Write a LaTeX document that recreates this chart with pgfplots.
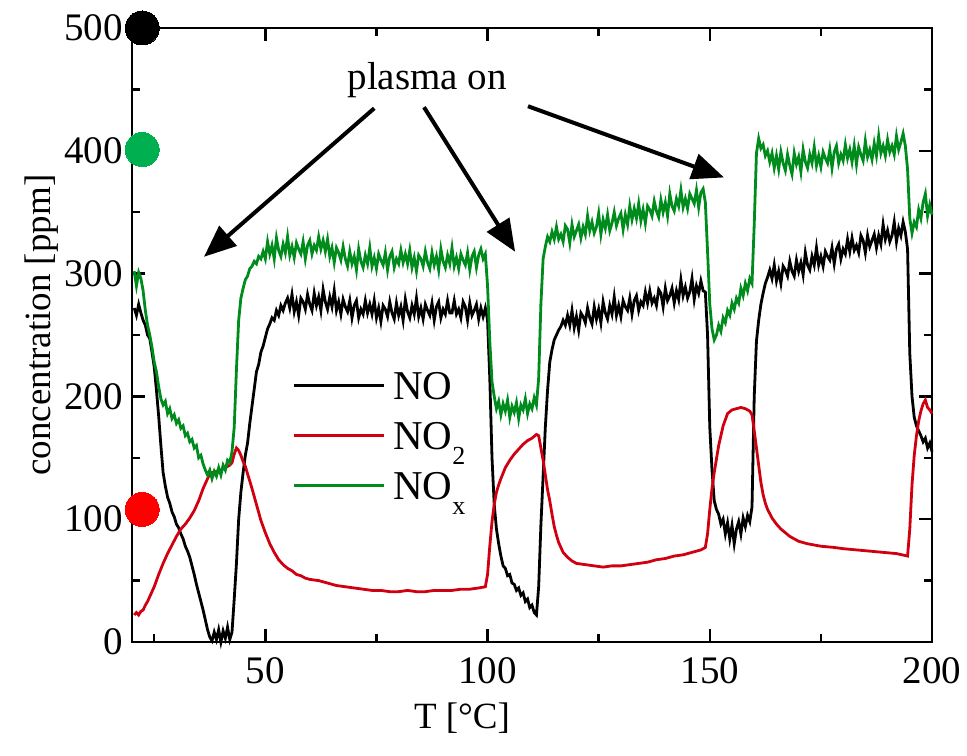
\documentclass[border=0pt]{standalone}
\usepackage{fontspec}
\setmainfont{Liberation Serif}
\usepackage{pgfplots}
\pgfplotsset{compat=1.18}
\usetikzlibrary{arrows.meta}
\definecolor{noxline}{RGB}{0,140,28}
\definecolor{noxdot}{RGB}{0,176,80}
\definecolor{notwoline}{RGB}{208,0,16}
\newcommand{\lsub}[1]{\raisebox{-0.36em}{\fontsize{13}{14}\selectfont #1}}
\begin{document}
\begin{tikzpicture}
\path[use as bounding box] (-66pt,-56.5pt) rectangle (417.5pt,321pt);
\begin{axis}[
  at={(0,0)}, anchor=south west,
  scale only axis, width=400pt, height=307pt,
  xmin=20, xmax=200, ymin=0, ymax=500,
  xtick={50,100,150,200}, minor xtick={25,75,125,175},
  ytick={0,100,200,300,400,500}, minor ytick={50,150,250,350,450},
  tick align=inside, tick pos=both,
  major tick length=6.5pt, minor tick length=4pt,
  axis line style={line width=1.4pt},
  every tick/.style={line width=1.2pt, black},
  /pgf/number format/assume math mode=true,
  tick label style={font=\fontsize{19.5}{21}\selectfont},
  xticklabel style={yshift=-4pt},
  yticklabel style={xshift=-1pt},
  xlabel={T [°C]}, ylabel={concentration [ppm]},
  label style={font=\fontsize{18.5}{20}\selectfont},
  xlabel style={at={(axis description cs:0.4125,-0.124)}, anchor=center},
  ylabel style={at={(axis description cs:-0.1125,0.516)}, anchor=center},
  clip=false,
  legend cell align=left,
  legend image code/.code={\draw[#1] (0pt,0pt) -- (45pt,0pt);},
  legend style={draw=none, fill=none, inner sep=0pt,
    at={(axis description cs:0.2,0.444)}, anchor=north west,
    font=\fontsize{20.5}{24}\selectfont, row sep=9pt, column sep=3pt,
    nodes={inner sep=1pt, text height=14pt, text depth=0pt}},
]
% NO
\addplot[black, line width=1.4pt] coordinates {
(20.5,272)(21,266)(21.5,275)(22,268)(22.5,262)(23,258)(23.5,250)(24,247)(24.5,236)(25,224)
(25.5,205)(26,184)(26.5,160)(27,138)(27.5,127)(28,118)(28.5,113)(29,106)(29.5,102)(30,96)
(30.5,93)(31,88)(31.5,84)(32,78)(32.5,74)(33,69)(33.5,62)(34,55)(34.5,47)(35,40)
(35.5,33)(36,26)(36.5,18)(37,10)(37.5,4)(38,1)(38.5,8)(39,2)(39.5,10)(40,0)
(40.5,9)(41,3)(41.5,12)(42,2)(42.5,8)(43,35)(43.5,64)(44,100)(44.5,122)(45,138)
(45.5,152)(46,162)(46.5,178)(47,192)(47.5,206)(48,220)(48.5,226)(49,236)(49.5,241)(50,248)
(50.5,255)(51,259)(51.5,264)(52,262)(52.5,270)(53,266)(53.5,274)(54,270)(54.5,276)
(55,280)(55.5,272)(56,283)(56.5,269)(57,277)(57.5,266)(58,280)(58.5,277)(59,271)(59.5,283)
(60,275)(60.5,270)(61,284)(61.5,274)(62,281)(62.5,270)(63,287)(63.5,277)(64,271)(64.5,281)
(65,273)(65.5,286)(66,270)(66.5,277)(67,267)(67.5,279)(68,273)(68.5,269)(69,278)(69.5,264)
(70,274)(70.5,278)(71,264)(71.5,271)(72,267)(72.5,278)(73,268)(73.5,275)(74,267)(74.5,278)
(75,264)(75.5,272)(76,261)(76.5,274)(77,271)(77.5,265)(78,277)(78.5,268)(79,263)(79.5,276)
(80,266)(80.5,273)(81,262)(81.5,279)(82,269)(82.5,264)(83,274)(83.5,267)(84,280)(84.5,265)
(85,272)(85.5,263)(86,275)(86.5,270)(87,266)(87.5,276)(88,262)(88.5,273)(89,277)(89.5,264)
(90,271)(90.5,267)(91,278)(91.5,268)(92,268)(92.5,278)(93,267)(93.5,271)(94,264)(94.5,277)
(95,273)(95.5,262)(96,276)(96.5,266)(97,270)(97.5,275)(98,263)(98.5,272)(99,265)(99.5,272)
(100,262)(100.5,215)(101,150)(101.5,112)(102,92)(102.5,80)(103,70)(103.5,62)(104,60)(104.5,54)
(105,55)(105.5,48)(106,47)(106.5,42)(107,44)(107.5,38)(108,40)(108.5,33)(109,35)(109.5,28)
(110,30)(110.5,24)(111,22)(111.5,45)(112,95)(112.5,135)(113,175)(113.5,205)(114,228)(114.5,238)
(115,246)(115.5,250)(116,254)(116.5,257)(117,262)(117.5,258)(118,266)(118.5,258)(119,270)(119.5,256)
(120,265)(120.5,254)(121,268)(121.5,265)(122,260)(122.5,272)(123,264)(123.5,259)(124,273)(124.5,263)
(125,271)(125.5,260)(126,277)(126.5,268)(127,263)(127.5,274)(128,267)(128.5,281)(129,266)(129.5,274)
(130,265)(130.5,278)(131,273)(131.5,270)(132,280)(132.5,267)(133,278)(133.5,282)(134,270)(134.5,277)
(135,274)(135.5,285)(136,276)(136.5,286)(137,276)(137.5,280)(138,274)(138.5,287)(139,284)(139.5,273)
(140,288)(140.5,278)(141,282)(141.5,288)(142,276)(142.5,286)(143,279)(143.5,295)(144,282)(144.5,289)
(145,280)(145.5,285)(146,296)(146.5,279)(147,290)(147.5,284)(148,294)(148.5,286)(149,285)(149.5,250)
(150,175)(150.5,140)(151,115)(151.5,108)(152,104)(152.5,96)(153,100)(153.5,88)(154,97)(154.5,84)
(155,95)(155.5,80)(156,92)(156.5,98)(157,88)(157.5,101)(158,94)(158.5,103)(159,98)(159.5,110)
(160,200)(160.5,245)(161,262)(161.5,275)(162,284)(162.5,292)(163,297)(163.5,303)(164,296)(164.5,307)
(165,294)(165.5,302)(166,292)(166.5,306)(167,303)(167.5,298)(168,310)(168.5,302)(169,298)(169.5,311)
(170,302)(170.5,309)(171,299)(171.5,317)(172,307)(172.5,303)(173,314)(173.5,307)(174,321)(174.5,307)
(175,314)(175.5,306)(176,318)(176.5,314)(177,311)(177.5,321)(178,308)(178.5,320)(179,324)(179.5,312)
(180,320)(180.5,316)(181,328)(181.5,318)(182,329)(182.5,319)(183,323)(183.5,317)(184,331)(184.5,327)
(185,317)(185.5,331)(186,322)(186.5,327)(187,332)(187.5,321)(188,331)(188.5,324)(189,340)(189.5,328)
(190,335)(190.5,326)(191,331)(191.5,342)(192,326)(192.5,337)(193,331)(193.5,342)(194,334)(194.5,320)
(195,235)(195.5,200)(196,183)(196.5,176)(197,172)(197.5,168)(198,163)(198.5,166)(199,158)(199.5,162)
(200,155)
};
\addlegendentry{NO}
% NO2
\addplot[notwoline, line width=1.4pt] coordinates {
(20.5,22)(21,24)(21.5,22)(22,25)(22.5,26)(23,30)(23.5,33)(24,37)(25,45)(26,55)
(27,64)(28,72)(29,79)(30,86)(31,92)(32,96)(33,101)(34,107)(35,115)(36,125)
(37,133)(37.5,137)(38,138)(39,139)(40,140)(41,142)(42,144)(42.5,146)(43,153)(43.5,158)
(44,156)(44.5,152)(45,147)(45.5,143)(46,137)(47,125)(48,112)(49,99)(50,89)(51,80)
(52,73)(53,67)(54,63)(55,60)(56,58)(57,55)(58,54)(59,52)(60,51)(62,50)
(64,48)(66,46)(68,45)(70,44)(72,43)(74,42)(76,42)(78,41)(80,41)(82,42)
(84,41)(86,41)(88,42)(90,42)(92,42)(94,43)(96,43)(98,44)(99.5,45)(100,55)
(100.5,78)(101,98)(101.5,112)(102,122)(102.5,128)(103,133)(104,142)(105,148)(106,153)(107,157)
(108,161)(109,164)(110,166)(111,169)(111.5,168)(112,158)(112.5,148)(113,136)(113.5,124)(114,115)
(114.5,104)(115,94)(115.5,87)(116,81)(117,73)(118,69)(119,66)(120,64)(122,63)(124,62)
(126,61)(128,62)(130,62)(132,63)(134,64)(136,65)(138,67)(140,68)(142,70)(144,71)
(146,73)(148,75)(149,77)(149.5,88)(150,108)(150.5,125)(151,138)(152,160)(153,176)(154,186)
(155,189)(156,190)(157,191)(158,190)(159,188)(159.5,185)(160,172)(160.5,158)(161,144)(161.5,130)
(162,120)(162.5,113)(163,108)(164,101)(165,96)(166,92)(167,89)(168,86)(170,82)(172,80)
(175,78)(178,77)(180,76)(183,75)(186,74)(189,73)(192,72)(194.5,70)(195,92)(195.5,128)
(196,152)(196.5,168)(197,180)(197.5,188)(198,194)(198.5,197)(199,191)(199.5,189)(200,186)
};
\addlegendentry{NO\lsub{2}}
% NOx
\addplot[noxline, line width=1.4pt] coordinates {
(20.5,302)(21,290)(21.5,301)(22,296)(22.5,286)(23,270)(23.5,258)(24,250)(24.5,240)(25,228)
(25.5,220)(26,208)(26.5,198)(27,193)(27.5,196)(28,186)(28.5,190)(29,182)(29.5,185)(30,178)
(30.5,181)(31,174)(31.5,176)(32,168)(32.5,170)(33,163)(33.5,165)(34,158)(34.5,160)(35,150)
(35.5,152)(36,145)(36.5,140)(37,136)(37.5,140)(38,133)(38.5,139)(39,135)(39.5,142)(40,136)
(40.5,144)(41,140)(41.5,148)(42,146)(42.5,155)(43,175)(43.5,222)(44,262)(44.5,280)(45,288)
(45.5,295)(46,298)(46.5,304)(47,306)(47.5,310)(48,308)(48.5,314)(49,312)(49.5,318)(50,312)
(50.5,326)(51,316)(51.5,323)(52,312)(52.5,329)(53,319)(53.5,314)(54,324)(54.5,317)(55,330)
(55.5,315)(56,322)(56.5,313)(57,325)(57.5,320)(58,316)(58.5,326)(59,312)(59.5,323)(60,327)
(60.5,316)(61,323)(61.5,319)(62,330)(62.5,320)(63,327)(63.5,318)(64,328)(64.5,314)(65,321)
(65.5,309)(66,321)(66.5,317)(67,311)(67.5,322)(68,312)(68.5,306)(69,318)(69.5,308)(70,314)
(70.5,303)(71,320)(71.5,310)(72,305)(72.5,315)(73,308)(73.5,321)(74,306)(74.5,313)(75,304)
(75.5,316)(76,311)(76.5,307)(77,317)(77.5,303)(78,314)(78.5,318)(79,305)(79.5,312)(80,308)
(80.5,319)(81,309)(81.5,316)(82,308)(82.5,319)(83,305)(83.5,313)(84,302)(84.5,315)(85,312)
(85.5,306)(86,318)(86.5,309)(87,304)(87.5,317)(88,307)(88.5,314)(89,303)(89.5,320)(90,310)
(90.5,305)(91,315)(91.5,308)(92,321)(92.5,306)(93,313)(93.5,304)(94,316)(94.5,311)(95,307)
(95.5,317)(96,303)(96.5,314)(97,318)(97.5,305)(98,315)(98.5,320)(99,312)(99.5,316)(100,290)
(100.5,245)(101,212)(101.5,200)(102,190)(102.5,196)(103,185)(103.5,194)(104,188)(104.5,197)(105,183)
(105.5,192)(106,187)(106.5,195)(107,182)(107.5,193)(108,189)(108.5,198)(109,186)(109.5,194)(110,190)
(110.5,199)(111,193)(111.5,215)(112,275)(112.5,312)(113,322)(113.5,330)(114,326)(114.5,334)(115,328)
(115.5,338)(116,328)(116.5,332)(117,326)(117.5,339)(118,336)(118.5,325)(119,340)(119.5,330)(120,335)
(120.5,340)(121,329)(121.5,338)(122,332)(122.5,347)(123,335)(123.5,342)(124,333)(124.5,338)(125,349)
(125.5,332)(126,344)(126.5,337)(127,348)(127.5,335)(128,341)(128.5,350)(129,339)(129.5,345)(130,349)
(130.5,336)(131,348)(131.5,340)(132,355)(132.5,344)(133,353)(133.5,345)(134,357)(134.5,343)(135,352)
(135.5,341)(136,355)(136.5,352)(137,347)(137.5,359)(138,351)(138.5,346)(139,360)(139.5,350)(140,358)
(140.5,347)(141,365)(141.5,355)(142,351)(142.5,361)(143,355)(143.5,368)(144,354)(144.5,361)(145,353)
(145.5,365)(146,361)(146.5,357)(147,368)(147.5,354)(148,366)(148.5,369)(149,358)(149.5,318)(150,275)
(150.5,255)(151,246)(151.5,250)(152,258)(152.5,253)(153,264)(153.5,260)(154,270)(154.5,266)(155,276)
(155.5,271)(156,280)(156.5,276)(157,288)(157.5,282)(158,292)(158.5,286)(159,296)(159.5,292)(160,340)
(160.5,398)(161,410)(161.5,402)(162,405)(162.5,396)(163,400)(163.5,391)(164,398)(164.5,386)(165,396)
(165.5,385)(166,399)(166.5,390)(167,384)(167.5,397)(168,388)(168.5,381)(169,398)(169.5,389)(170,395)
(170.5,383)(171,401)(171.5,391)(172,386)(172.5,397)(173,390)(173.5,403)(174,388)(174.5,396)(175,387)
(175.5,399)(176,394)(176.5,390)(177,401)(177.5,386)(178,399)(178.5,404)(179,390)(179.5,397)(180,392)
(180.5,405)(181,394)(181.5,401)(182,391)(182.5,404)(183,389)(183.5,403)(184,397)(184.5,392)(185,408)
(185.5,395)(186,401)(186.5,393)(187,406)(187.5,396)(188,412)(188.5,398)(189,404)(189.5,396)(190,409)
(190.5,399)(191,404)(191.5,397)(192,412)(192.5,401)(193,407)(193.5,414)(194,404)(194.5,385)(195,345)
(195.5,333)(196,342)(196.5,338)(197,352)(197.5,345)(198,358)(198.5,365)(199,347)(199.5,356)(200,348)
};
\addlegendentry{NO\lsub{x}}
% coloured dots
\addplot[forget plot, only marks, black, mark=*, mark size=8.5pt, mark options={solid, fill=black, draw=black, line width=0pt}] coordinates {(22.3,500)};
\addplot[forget plot, only marks, noxdot, mark=*, mark size=8.5pt, mark options={solid, fill=noxdot, draw=noxdot, line width=0pt}] coordinates {(22.3,401)};
\addplot[forget plot, only marks, red, mark=*, mark size=8.5pt, mark options={solid, fill=red, draw=red, line width=0pt}] coordinates {(22.3,108)};
% annotation
\node[font=\fontsize{19.5}{22}\selectfont] at (axis cs:86.4,457.5) {plasma on};
\draw[line width=2pt, -{Triangle[length=16pt,width=13pt]}] (axis cs:74.5,434.6) -- (axis cs:36.2,313.7);
\draw[line width=2pt, -{Triangle[length=16pt,width=13pt]}] (axis cs:85.7,435.5) -- (axis cs:106.2,317.8);
\draw[line width=2pt, -{Triangle[length=16pt,width=13pt]}] (axis cs:109.1,436.3) -- (axis cs:153.2,378.3);
\end{axis}
\end{tikzpicture}
\end{document}
